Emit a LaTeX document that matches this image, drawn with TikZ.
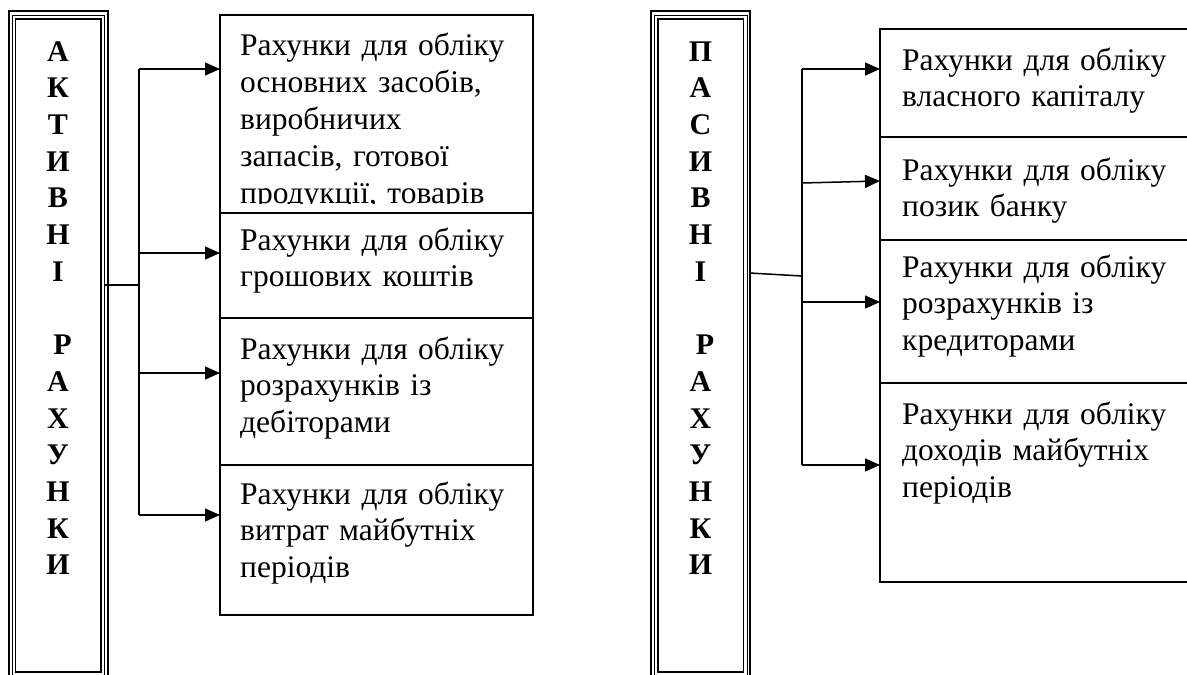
\documentclass[tikz,border=0pt]{standalone}
\usepackage{fontspec}
\setmainfont{Liberation Serif}
\usetikzlibrary{arrows.meta, positioning, calc}

\begin{document}
\begin{tikzpicture}[x=1pt, y=-1pt,
  frame/.style={draw, line width=1.9pt, minimum width=85.5pt, minimum height=653pt,
    inner sep=0pt, outer sep=0pt},
  acc/.style={draw, line width=1.6pt, inner sep=0pt, outer sep=0pt},
  label/.style={anchor=base west, inner sep=0pt, text width=285pt, align=left,
    font=\fontsize{31.5}{36.5}\selectfont},
  letters/.style={anchor=base, inner sep=0pt, text width=60pt, align=center,
    font=\bfseries\fontsize{30}{36.7}\selectfont},
  arr/.style={-{Triangle[length=15pt,width=13pt]}, line width=1.5pt},
  link/.style={line width=1.5pt}
]
\clip (0,0) rectangle (1187,675);

% left: active accounts
\node[frame, anchor=north west] (act) at (15.5,19) {};
\draw[line width=1pt] ($(act.north west)+(-3.5,-4)$) rectangle ($(act.south east)+(3.5,4)$);
\draw[line width=2pt] ($(act.north west)+(-7,-7.7)$) rectangle ($(act.south east)+(6.5,8)$);
\node[letters] (actl) at (58,61) {А\\К\\Т\\И\\В\\Н\\І\\~\\\hspace*{9pt}Р\\А\\Х\\У\\Н\\К\\И};

\node[acc, anchor=north west, minimum width=313pt, minimum height=198pt] (a1) at (220,15) {};
\node[acc, minimum width=313pt, minimum height=105pt, below=0pt of a1] (a2) {};
\node[acc, minimum width=313pt, minimum height=147pt, below=0pt of a2] (a3) {};
\node[acc, minimum width=313pt, minimum height=150pt, below=0pt of a3] (a4) {};

\begin{scope}
  \clip (a1.north west) rectangle ($(a1.south east)+(0,-10)$);
  \node[label, font=\fontsize{31.5}{37}\selectfont] (a1t) at ($(a1.north west)+(20,40)$) {Рахунки для обліку\\основних засобів,\\виробничих\\запасів, готової\\продукції, товарів};
\end{scope}
\node[label] (a2t) at ($(a2.north west)+(20,37)$) {Рахунки для обліку\\грошових коштів};
\node[label] (a3t) at ($(a3.north west)+(20,41)$) {Рахунки для обліку\\розрахунків із\\дебіторами};
\node[label] (a4t) at ($(a4.north west)+(20,39)$) {Рахунки для обліку\\витрат майбутніх\\періодів};

\coordinate (lhub) at (139,285);
\coordinate (l1) at (139,69);
\coordinate (l2) at (139,253);
\coordinate (l3) at (139,373);
\coordinate (l4) at (139,515);
\draw[link] ($(act.east |- lhub)+(4,0)$) -- (lhub);
\draw[link] (l1) -- (l4);
\foreach \i in {1,...,4}
  \draw[arr] (l\i) -- (l\i -| a\i.west);

% right: passive accounts
\node[frame, anchor=north west] (pas) at (658,19) {};
\draw[line width=1pt] ($(pas.north west)+(-3.5,-4)$) rectangle ($(pas.south east)+(3.5,4)$);
\draw[line width=2pt] ($(pas.north west)+(-7,-7.7)$) rectangle ($(pas.south east)+(6.5,8)$);
\node[letters] (pasl) at (700.5,61) {П\\А\\С\\И\\В\\Н\\І\\~\\\hspace*{9pt}Р\\А\\Х\\У\\Н\\К\\И};

\node[acc, anchor=north west, minimum width=309pt, minimum height=108pt] (p1) at (880,29) {};
\node[acc, minimum width=309pt, minimum height=103pt, below=0pt of p1] (p2) {};
\node[acc, minimum width=309pt, minimum height=143pt, below=0pt of p2] (p3) {};
\node[acc, minimum width=309pt, minimum height=199pt, below=0pt of p3] (p4) {};

\node[label] (p1t) at ($(p1.north west)+(22,41)$) {Рахунки для обліку\\власного капіталу};
\node[label] (p2t) at ($(p2.north west)+(22,43)$) {Рахунки для обліку\\позик банку};
\node[label] (p3t) at ($(p3.north west)+(22,37)$) {Рахунки для обліку\\розрахунків із\\кредиторами};
\node[label] (p4t) at ($(p4.north west)+(22,41)$) {Рахунки для обліку\\доходів майбутніх\\періодів};

\coordinate (rhub) at (802,276);
\coordinate (r1) at (802,69);
\coordinate (r2) at (802,183);
\coordinate (r3) at (802,302);
\coordinate (r4) at (802,465);
\draw[link] ($(pas.east |- rhub)+(6,-3)$) -- (rhub);
\draw[link] (r1) -- (r4);
\draw[arr] (r1) -- (r1 -| p1.west);
\draw[arr] (r2) -- ($(r2 -| p2.west)+(0,-2)$);
\draw[arr] (r3) -- (r3 -| p3.west);
\draw[arr] (r4) -- (r4 -| p4.west);
\end{tikzpicture}
\end{document}
